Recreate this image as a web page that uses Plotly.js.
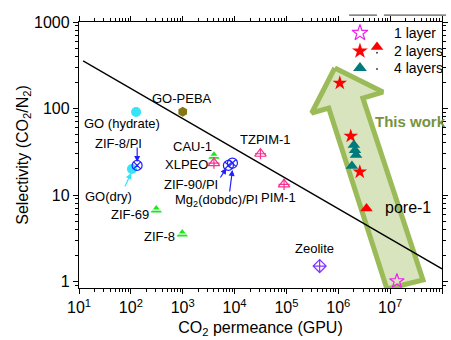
<!DOCTYPE html>
<html>
<head>
<meta charset="utf-8">
<script src="https://cdn.plot.ly/plotly-3.0.1.min.js"></script>
<style>html,body{margin:0;padding:0;background:#fff;}#chart{width:451px;height:340px;}</style>
</head>
<body>
<div id="chart"></div>
<script>
// ---- Data (CO2 permeance in GPU, CO2/N2 selectivity) ----
var goX = [126, 105];            // GO (hydrate), GO(dry)
var goY = [91, 20];
var gopebaX = [1000];            // GO-PEBA
var gopebaY = [92];
var mmmX = [132, 7600, 9100];    // ZIF-8/PI, ZIF-90/PI, Mg2(dobdc)/PI
var mmmY = [22, 22, 23.4];
var zifX = [4000, 309, 980];     // CAU-1, ZIF-69, ZIF-8
var zifY = [28, 6.7, 3.54];
var polyX = [4000, 31600, 90000];// XLPEO, TZPIM-1, PIM-1
var polyY = [23.4, 30, 13.3];
var zeoX = [437000];             // Zeolite
var zeoY = [1.51];
var layer1X = [1.35e7];          // this work, 1 layer
var layer1Y = [1.01];
var layer2StarX = [1.07e6, 1.74e6, 2.6e6];
var layer2StarY = [197, 48, 18.5];
var layer2TriX = [3.5e6];        // pore-1
var layer2TriY = [7.0];
var layer4X = [2.0e6, 2.1e6, 2.2e6, 1.83e6];
var layer4Y = [37.9, 33, 29, 21.6];
// Robeson-type upper bound line
var boundX = [12, 1e8];
var boundY = [355, 1.4];
// "This work" arrow outline (data coordinates)
var arrowX = [8.55e5, 7.26e6, 2.98e6, 4.3e7, 8.67e6, 6.55e5, 3.07e5, 8.55e5];
var arrowY = [294, 155, 132, 1.04, 0.82, 101, 88.7, 294];
// Tick labels
var xTickVals = [1e1, 1e2, 1e3, 1e4, 1e5, 1e6, 1e7, 1e8];
var xTickText = ['10<sup>1</sup>', '10<sup>2</sup>', '10<sup>3</sup>', '10<sup>4</sup>', '10<sup>5</sup>', '10<sup>6</sup>', '10<sup>7</sup>', '10<sup>8</sup>'];
var yTickVals = [1, 10, 100, 1000];
var yTickText = ['1', '10', '100', '1000'];
var legendLabels = ['1 layer', '2 layers', '4 layers'];

var FONT = 'Liberation Sans, Arial, sans-serif';
var C = {
  cyan: '#35e4f6', olive: '#857714', blue: '#1f1fff', green: '#1ee61e',
  pink: '#f5318f', purple: '#8833ff', magenta: '#ee22ee', red: '#ff0000',
  teal: '#007b7b', arrowFill: '#d7e4bd', arrowLine: '#9bbb59', work: '#77933c'
};

var traces = [
  {x: arrowX, y: arrowY, mode: 'lines', fill: 'toself', fillcolor: C.arrowFill,
   line: {color: C.arrowLine, width: 5}, hoverinfo: 'skip'},
  {x: boundX, y: boundY, mode: 'lines', line: {color: 'black', width: 1.3}},
  {x: goX, y: goY, mode: 'markers', marker: {symbol: 'circle', size: 10, color: C.cyan}},
  {x: gopebaX, y: gopebaY, mode: 'markers', marker: {symbol: 'hexagon', size: 10, color: C.olive}},
  {x: mmmX, y: mmmY, mode: 'markers', marker: {symbol: 'circle-x-open', size: 10, color: C.blue, line: {width: 1.2}}},
  {x: zifX, y: zifY, mode: 'markers', marker: {symbol: 'triangle-up', size: 10, color: C.green}},
  {x: zifX, y: zifY, mode: 'markers', marker: {symbol: 'line-ew-open', size: 6, color: 'white', line: {width: 1.2, color: 'white'}}},
  {x: polyX, y: polyY, mode: 'markers', marker: {symbol: 'triangle-up-open', size: 10, color: C.pink, line: {width: 1.2}}},
  {x: polyX, y: polyY, mode: 'markers', marker: {symbol: 'cross-thin-open', size: 8, color: C.pink, line: {width: 1.2, color: C.pink}}},
  {x: zeoX, y: zeoY, mode: 'markers', marker: {symbol: 'diamond-cross-open', size: 10, color: C.purple, line: {width: 1.2}}},
  {x: layer1X, y: layer1Y, mode: 'markers', marker: {symbol: 'star-open', size: 11, color: C.magenta, line: {width: 1.2}}},
  {x: layer2StarX, y: layer2StarY, mode: 'markers', marker: {symbol: 'star', size: 11, color: C.red}},
  {x: layer2TriX, y: layer2TriY, mode: 'markers', marker: {symbol: 'triangle-up', size: 11, color: C.red}},
  {x: layer4X, y: layer4Y, mode: 'markers', marker: {symbol: 'triangle-up', size: 11, color: C.teal}},
  // legend keys on a hidden overlay axis (0..1)
  {x: [0.774], y: [0.959], xaxis: 'x2', yaxis: 'y2', mode: 'markers', marker: {symbol: 'star-open', size: 12, color: C.magenta, line: {width: 1.2}}},
  {x: [0.774], y: [0.891], xaxis: 'x2', yaxis: 'y2', mode: 'markers', marker: {symbol: 'star', size: 12, color: C.red}},
  {x: [0.821], y: [0.906], xaxis: 'x2', yaxis: 'y2', mode: 'markers', marker: {symbol: 'triangle-up', size: 11, color: C.red}},
  {x: [0.774], y: [0.827], xaxis: 'x2', yaxis: 'y2', mode: 'markers', marker: {symbol: 'triangle-up', size: 12, color: C.teal}},
  {x: [0.821, 0.821], y: [0.884, 0.823], xaxis: 'x2', yaxis: 'y2', mode: 'markers', marker: {symbol: 'circle', size: 2, color: '#444'}}
];
traces.forEach(function (t) { t.showlegend = false; if (!t.hoverinfo) t.hoverinfo = 'skip'; });

function lab(text, x, y, extra) {
  var a = {text: text, x: x, y: y, xref: 'x', yref: 'y', showarrow: false,
           font: {family: FONT, size: 13, color: 'black'}, xanchor: 'center', yanchor: 'middle'};
  for (var k in extra) a[k] = extra[k];
  return a;
}
function arr(x, y, ax, ay, color) {
  return {text: '', x: x, y: y, ax: ax, ay: ay, xref: 'x', yref: 'y', showarrow: true,
          arrowhead: 2, arrowsize: 1, arrowwidth: 1.2, arrowcolor: color};
}

var annotations = [
  lab('GO (hydrate)', 1.832, 1.821),
  lab('GO-PEBA', 2.992, 2.110),
  lab('ZIF-8/PI', 1.754, 1.601),
  lab('GO(dry)', 1.561, 0.988),
  lab('CAU-1', 3.186, 1.566),
  lab('XLPEO', 3.070, 1.358),
  lab('ZIF-90/PI', 3.166, 1.127),
  lab('Mg<sub>2</sub>(dobdc)/PI', 3.650, 0.931),
  lab('TZPIM-1', 4.598, 1.636),
  lab('PIM-1', 4.849, 0.977),
  lab('ZIF-69', 1.986, 0.780),
  lab('ZIF-8', 2.547, 0.526),
  lab('Zeolite', 5.545, 0.376),
  lab('<b>This work</b>', 7.39, 1.855, {font: {family: FONT, size: 15, color: C.work}}),
  lab('pore-1', 7.344, 0.861, {font: {family: FONT, size: 16, color: 'black'}}),
  arr(2.122, 1.382, 0, -16, C.blue),
  arr(2.006, 1.254, -7, 15, C.cyan),
  arr(3.843, 1.312, -7, 11, C.blue),
  arr(3.959, 1.289, -3, 23, C.blue)
];
var legY = [0.959, 0.891, 0.827];
legendLabels.forEach(function (t, i) {
  annotations.push({text: t, xref: 'paper', yref: 'paper', x: 0.861, y: legY[i],
    xanchor: 'left', yanchor: 'middle', showarrow: false,
    font: {family: FONT, size: 14, color: 'black'}});
});

var layout = {
  width: 451, height: 340,
  margin: {l: 79, r: 9, t: 22, b: 52},
  paper_bgcolor: 'white', plot_bgcolor: 'white',
  font: {family: FONT, color: 'black'},
  showlegend: false,
  xaxis: {
    type: 'log', range: [1, 8], tickmode: 'array', tickvals: xTickVals, ticktext: xTickText,
    ticks: 'outside', ticklen: 5, tickwidth: 1, tickcolor: 'black',
    showline: true, linecolor: 'black', linewidth: 1.2, mirror: 'ticks',
    showgrid: false, zeroline: false, tickfont: {family: FONT, size: 16, color: 'black'},
    minor: {ticks: 'outside', ticklen: 3, dtick: 'D1', tickcolor: 'black', showgrid: false},
    title: {text: 'CO<sub>2</sub> permeance (GPU)', font: {family: FONT, size: 16, color: 'black'}, standoff: 6}
  },
  yaxis: {
    type: 'log', range: [-0.075, 3], tickmode: 'array', tickvals: yTickVals, ticktext: yTickText,
    ticks: 'outside', ticklen: 5, tickwidth: 1, tickcolor: 'black',
    showline: true, linecolor: 'black', linewidth: 1.2, mirror: 'ticks',
    showgrid: false, zeroline: false, tickfont: {family: FONT, size: 16, color: 'black'},
    minor: {ticks: 'outside', ticklen: 3, dtick: 'D1', tickcolor: 'black', showgrid: false},
    title: {text: 'Selectivity (CO<sub>2</sub>/N<sub>2</sub>)', font: {family: FONT, size: 16, color: 'black'}, standoff: 1}
  },
  xaxis2: {overlaying: 'x', range: [0, 1], visible: false, fixedrange: true},
  yaxis2: {overlaying: 'y', range: [0, 1], visible: false, fixedrange: true},
  annotations: annotations,
  shapes: [
    {type: 'line', xref: 'paper', yref: 'paper', x0: 0.744, x1: 0.821, y0: 1.026, y1: 1.026, line: {color: '#333', width: 1}},
    {type: 'line', xref: 'paper', yref: 'paper', x0: 0.840, x1: 1.011, y0: 1.026, y1: 1.026, line: {color: '#333', width: 1}}
  ]
};

Plotly.newPlot('chart', traces, layout, {staticPlot: true, displayModeBar: false});
</script>
</body>
</html>
